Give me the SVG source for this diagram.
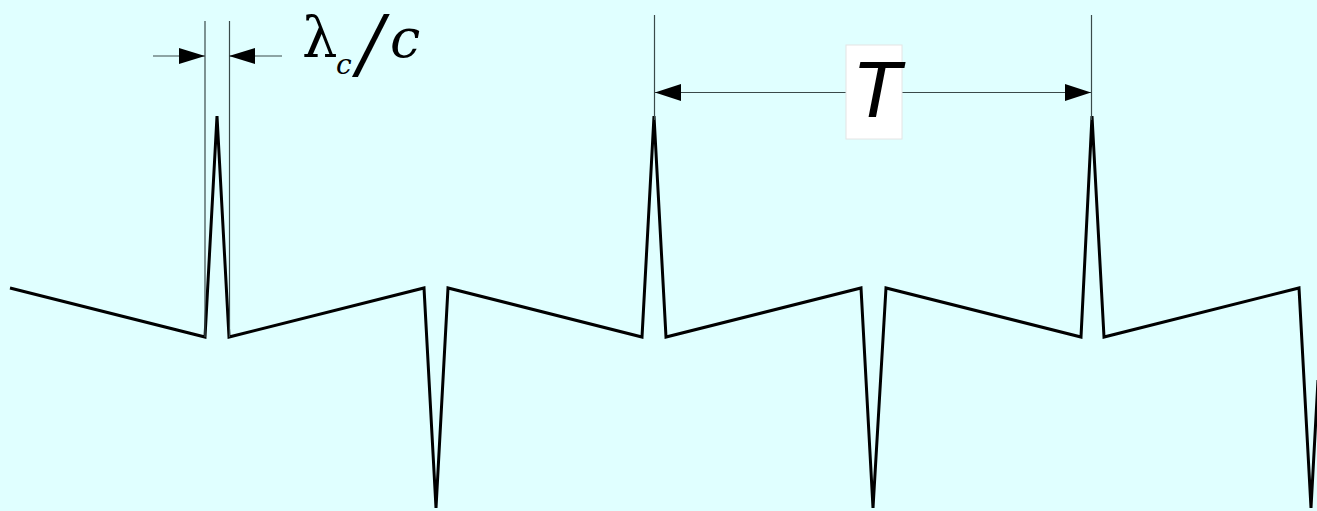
<svg xmlns="http://www.w3.org/2000/svg" width="1317" height="511" viewBox="0 0 1317 511">
<style>
.dim{stroke:#3a4a4a;stroke-width:1.2;fill:none}
.wave{stroke:#000;stroke-width:3;fill:none;stroke-linejoin:miter;stroke-miterlimit:4}
.arr{fill:#000}
.ser{font-family:"DejaVu Serif","Liberation Serif",serif;fill:#000}
</style>
<rect x="0" y="0" width="1317" height="511" fill="#E0FFFF"/>
<g id="waveform">
<polyline class="wave" points="10,288 205,337 217,116 229,337 424,288 436,508 448,288 642,337 654,116 666,337 861,288 873,508 886,288 1081,337 1092,116 1104,337 1299,288 1311,508 1318,380"/>
</g>
<g id="connectors">
<line class="dim" x1="205" y1="21" x2="205" y2="337"/>
<line class="dim" x1="229.5" y1="21" x2="229.5" y2="337"/>
<line class="dim" x1="153" y1="56" x2="205" y2="56"/>
<line class="dim" x1="229" y1="56" x2="282" y2="56"/>
<polygon class="arr" points="205,56 179,48 179,64"/>
<polygon class="arr" points="229,56 255,48 255,64"/>
<line class="dim" x1="654.5" y1="15" x2="654.5" y2="120"/>
<line class="dim" x1="1091.5" y1="15" x2="1091.5" y2="120"/>
<line class="dim" x1="655" y1="92.5" x2="1091" y2="92.5"/>
<polygon class="arr" points="655,92.5 681,84 681,101"/>
<polygon class="arr" points="1091,92.5 1065,84 1065,101"/>
</g>
<g id="label-lambda">
<text class="ser" x="302" y="57" font-size="56">λ</text>
<text class="ser" x="336" y="74" font-size="28" font-style="italic">c</text>
<text class="ser" x="358" y="70" font-size="76" font-style="italic">/</text>
<text class="ser" x="390" y="57" font-size="54" font-style="italic">c</text>
</g>
<g id="label-T">
<rect x="846" y="45" width="56" height="94" fill="#fff" stroke="#e4e4e4" stroke-width="1"/>
<text x="852" y="117" font-size="80" font-style="italic" font-family="'Liberation Sans', Arial, sans-serif" fill="#000">T</text>
</g>
</svg>
